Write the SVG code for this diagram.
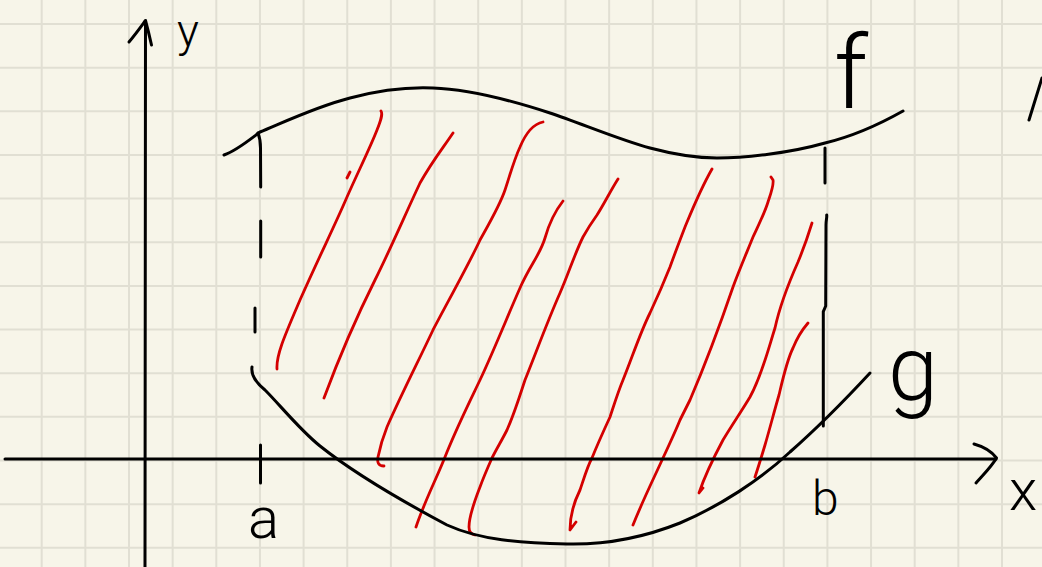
<svg xmlns="http://www.w3.org/2000/svg" width="1042" height="567" viewBox="0 0 1042 567">
<style>
.grid{stroke:#e1dfd3;stroke-width:2;fill:none}
.ink{stroke:#000;stroke-width:3;fill:none;stroke-linecap:round;stroke-linejoin:round}
.red{stroke:#d40000;stroke-width:2.8;fill:none;stroke-linecap:round;stroke-linejoin:round}
.lbl{font-family:Roboto,"Liberation Sans",sans-serif;font-weight:300;fill:#000}
</style>
<rect width="1042" height="567" fill="#f7f5e9"/>
<g id="grid" class="grid">
<path d="M41.7,0V567M85.35,0V567M129,0V567M172.65,0V567M216.3,0V567M259.95,0V567M303.6,0V567M347.25,0V567M390.9,0V567M434.55,0V567M478.2,0V567M521.85,0V567M565.5,0V567M609.15,0V567M652.8,0V567M696.45,0V567M740.1,0V567M783.75,0V567M827.4,0V567M871.05,0V567M914.7,0V567M958.35,0V567M1002,0V567"/>
<path d="M0,24H1042M0,67.65H1042M0,111.3H1042M0,154.95H1042M0,198.6H1042M0,242.25H1042M0,285.9H1042M0,329.55H1042M0,373.2H1042M0,416.85H1042M0,460.5H1042M0,504.15H1042M0,547.8H1042"/>
</g>
<g id="hatch" class="red">
<path d="M277,369 C276,355 285,335 300,300 C320,255 335,225 347,197 C358,172 370,148 377,130 C381,120 383,114 381,111"/>
<path d="M347,178 L350,172"/>
<path d="M324,398 C340,355 355,320 375,280 C390,250 405,215 420,183 C433,160 443,148 453,133"/>
<path d="M384,466 C378,466 377,462 378,457 C380,447 383,437 387,427 C402,393 418,362 433,330 C446,305 470,262 480,240 C490,222 500,205 505,190 C510,175 514,160 520,147 C525,135 533,124 543,122"/>
<path d="M416,527 C425,500 437,478 447,452 C458,425 468,405 480,380 C495,348 508,315 520,288 C530,265 540,255 545,238 C550,220 556,210 563,201"/>
<path d="M475,535 C470,534 469,531 469,527 C469,515 475,500 480,487 C484,476 488,467 492,458 C497,448 502,440 507,430 C515,412 520,395 525,380 C537,350 548,320 560,293 C568,275 575,253 583,237 C588,228 592,222 597,215 C604,204 611,190 618,179"/>
<path d="M576,522 L570,530 C570,515 575,500 580,490 C585,475 588,465 592,458 C598,443 604,430 610,417 C614,405 618,392 623,380 C632,358 640,333 650,313 C657,298 664,282 670,267 C675,253 680,240 685,227 C690,215 700,190 712,169"/>
<path d="M633,525 C643,500 653,480 663,458 C670,443 676,430 680,420 C684,412 687,406 690,400 C705,365 720,325 733,287 C740,268 747,252 753,237 C760,222 765,212 768,202 C771,193 774,185 773,180 L771,177"/>
<path d="M703,488 L699,493 C705,475 715,455 723,440 C732,425 741,412 750,397 C762,375 768,350 775,328 C780,305 790,280 798,262 C803,250 808,236 812,223"/>
<path d="M755,477 C759,465 762,455 765,445 C770,428 774,412 779,395 C783,378 787,360 793,348 C797,338 802,330 808,323"/>
</g>
<g id="axes" class="ink">
<path d="M145,567 L145.5,21"/>
<path d="M129,42 C135,35 140,28 145.5,20.5 C147.5,28 149.5,36 151.5,45"/>
<path d="M5,459 L996,459"/>
<path d="M974,444 C985,447 992,452 996.5,458 C992,466 984,474 976,483"/>
<path d="M260.5,445 L260.5,483"/>
</g>
<g id="curve-f" class="ink">
<path d="M224,155 C236,151 248,141 260,132 C280,124 315,107 350,98 C380,90 410,87 433,88 C470,89 510,100 550,113 C580,123 620,140 650,148 C680,156 700,158 717,158 C745,158 790,153 825,143 C850,137 880,124 903,111"/>
</g>
<g id="curve-g" class="ink">
<path d="M252,367 C251,374 255,382 265,390 C280,405 300,430 320,446 C350,470 400,500 447,525 C480,540 520,543 567,544 C610,545 650,535 680,523 C720,506 760,480 790,452 C815,430 845,400 870,373"/>
</g>
<g id="bounds" class="ink">
<path d="M258,133 C260,138 260.5,143 260.5,148 L260.7,187"/>
<path d="M260.7,221 L260.7,257"/>
<path d="M255,308 L255,332"/>
<path d="M825,148 L825,183"/>
<path d="M826.7,215 C827,218 826,220 826,225 L825.7,306 L823.3,311.7 L823.3,426"/>
<path d="M1029,120 L1042,78"/>
</g>
<g id="labels">
<text class="lbl" x="177" y="47" font-size="46">y</text>
<text class="lbl" x="1009" y="510" font-size="58">x</text>
<text class="lbl" x="248" y="538" font-size="58">a</text>
<text class="lbl" x="812" y="515" font-size="48">b</text>
<text class="lbl" x="834" y="108" font-size="102">f</text>
<text class="lbl" x="888" y="400" font-size="90">g</text>
</g>
</svg>
